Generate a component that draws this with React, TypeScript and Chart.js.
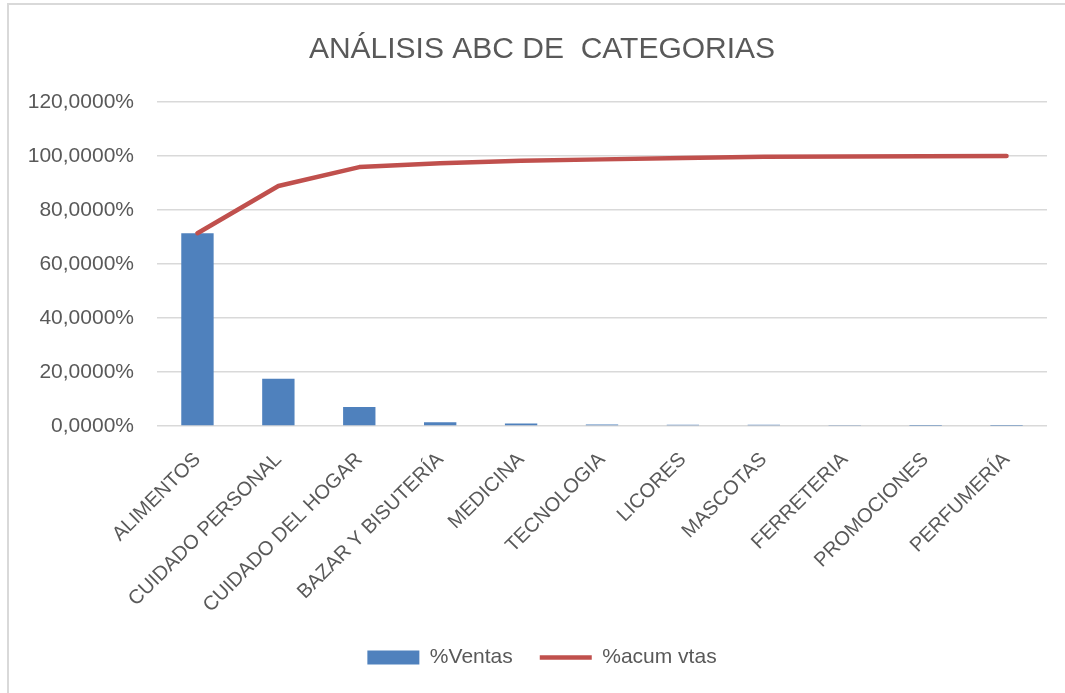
import React, { useEffect, useRef } from "react";
import { Chart, registerables } from "chart.js";

Chart.register(...registerables);

const categories = [
  "ALIMENTOS",
  "CUIDADO PERSONAL",
  "CUIDADO DEL HOGAR",
  "BAZAR Y BISUTERÍA",
  "MEDICINA",
  "TECNOLOGIA",
  "LICORES",
  "MASCOTAS",
  "FERRETERIA",
  "PROMOCIONES",
  "PERFUMERÍA",
];

const ventasPct = [71.4, 17.5, 7.0, 1.4, 0.9, 0.55, 0.5, 0.45, 0.15, 0.1, 0.05];
const acumPct = [71.4, 88.9, 95.9, 97.3, 98.2, 98.75, 99.25, 99.7, 99.85, 99.95, 100];

const yTicks = [0, 20, 40, 60, 80, 100, 120];

const FONT = "'Liberation Sans', Arial, sans-serif";
const TEXT = "#595959";

export default function App() {
  const ref = useRef<HTMLCanvasElement | null>(null);

  useEffect(() => {
    document.body.style.margin = "0";
    const canvas = ref.current;
    if (!canvas) return;
    const chart = new Chart(canvas, {
      type: "bar",
      data: {
        labels: categories,
        datasets: [
          {
            type: "bar",
            label: "%Ventas",
            data: ventasPct,
            backgroundColor: "#4f81bd",
            borderWidth: 0,
            barPercentage: 0.4,
            categoryPercentage: 1,
            order: 2,
            pointStyle: "rect",
          } as any,
          {
            type: "line",
            label: "%acum vtas",
            data: acumPct,
            borderColor: "#c0504d",
            backgroundColor: "#c0504d",
            borderWidth: 4.5,
            borderCapStyle: "round",
            borderJoinStyle: "round",
            pointRadius: 0,
            pointHoverRadius: 0,
            tension: 0,
            order: 1,
            pointStyle: "line",
          } as any,
        ],
      },
      options: {
        animation: false,
        responsive: false,
        maintainAspectRatio: false,
        layout: { padding: { left: 20, right: 1, top: 0, bottom: 15 } },
        plugins: {
          title: {
            display: true,
            text: "ANÁLISIS ABC DE  CATEGORIAS",
            color: TEXT,
            font: { family: FONT, size: 30, weight: "normal" },
            padding: { top: 32, bottom: 34 },
          },
          legend: {
            display: true,
            position: "bottom",
            labels: {
              color: TEXT,
              font: { family: FONT, size: 21 },
              usePointStyle: true,
              pointStyleWidth: 52,
              boxHeight: 14,
              padding: 27,
              sort: (a: any, b: any) => a.datasetIndex - b.datasetIndex,
            },
          },
          tooltip: { enabled: false },
        },
        scales: {
          x: {
            grid: { display: false },
            border: { display: false },
            ticks: {
              color: TEXT,
              font: { family: FONT, size: 20 },
              minRotation: 45,
              maxRotation: 45,
              padding: 14,
              autoSkip: false,
            },
            afterFit: (scale: any) => {
              scale.height = 194;
            },
          },
          y: {
            min: 0,
            max: 120,
            afterBuildTicks: (scale: any) => {
              scale.ticks = yTicks.map((v) => ({ value: v }));
            },
            grid: { color: "#d9d9d9", lineWidth: 1.5, drawTicks: false },
            border: { display: false },
            ticks: {
              color: TEXT,
              font: { family: FONT, size: 21 },
              padding: 23,
              callback: (v: any) => Number(v).toFixed(4).replace(".", ",") + "%",
            },
            afterFit: (scale: any) => {
              scale.width = 137;
            },
          },
          yRightSpacer: {
            type: "linear",
            position: "right",
            display: true,
            grid: { display: false, drawTicks: false },
            border: { display: false },
            ticks: { display: false },
            afterFit: (scale: any) => {
              scale.width = 17;
            },
          },
        },
      } as any,
    });
    return () => chart.destroy();
  }, []);

  return (
    <div style={{ position: "relative", width: 1065, height: 693, overflow: "hidden", background: "#fff" }}>
      <div
        style={{
          position: "absolute",
          left: 7,
          top: 3,
          width: 1100,
          height: 720,
          border: "2px solid #d9d9d9",
          boxSizing: "border-box",
        }}
      />
      <canvas ref={ref} width={1065} height={693} style={{ position: "absolute", left: 0, top: 0, display: "block" }} />
    </div>
  );
}
